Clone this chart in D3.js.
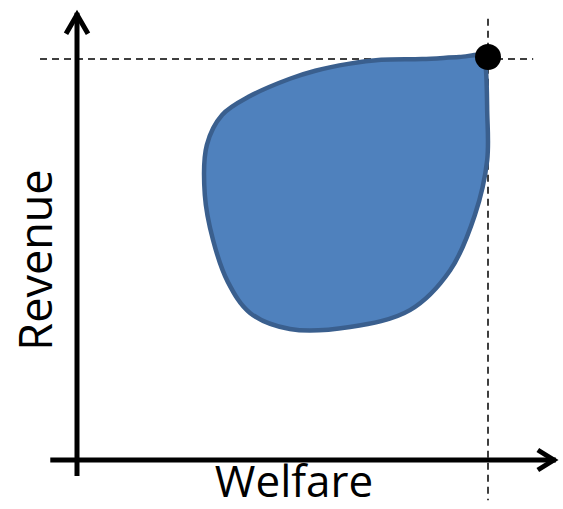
<!DOCTYPE html>
<html>
<head>
<meta charset="utf-8">
<script src="https://cdn.jsdelivr.net/npm/d3@7"></script>
<style>
  body { margin: 0; background: #fff; }
  text { font-family: "Open Sans", sans-serif; fill: #000; }
</style>
</head>
<body>
<svg width="563" height="509"></svg>
<script>
"use strict";

// feasible region outline (welfare, revenue), optimum scaled to 100/100
var regionWelfare = [99, 93, 84, 74, 66, 58, 51.8, 42.1, 35.3, 31.6, 31.1, 33.1, 36.7, 42.1, 51.8, 66.4, 81, 90.8, 96.8, 99.8, 99.8, 99.5];
var regionRevenue = [100.2, 100, 99.5, 99.3, 98.3, 96.6, 94.6, 90.3, 85.6, 78.2, 65.8, 54.6, 44.2, 36.5, 32.5, 33, 37.2, 47.1, 60.8, 74.4, 86.8, 96.8];
var optimum = [100, 100];
var xLabel = "Welfare";
var yLabel = "Revenue";

var svg = d3.select("svg");

var x = d3.scaleLinear().domain([0, 100]).range([77, 488]),
    y = d3.scaleLinear().domain([0, 100]).range([460, 57]);

var pts = regionWelfare.map(function(w, i) { return [w, regionRevenue[i]]; });

// dashed guides through the optimum
svg.append("line")
  .attr("x1", x(-9)).attr("x2", x(111))
  .attr("y1", y(optimum[1]) + 2).attr("y2", y(optimum[1]) + 2)
  .attr("stroke", "#000").attr("stroke-width", 1.5)
  .attr("stroke-dasharray", "7,5");
svg.append("line")
  .attr("x1", x(optimum[0])).attr("x2", x(optimum[0]))
  .attr("y1", y(109.5)).attr("y2", y(-10))
  .attr("stroke", "#000").attr("stroke-width", 1.5)
  .attr("stroke-dasharray", "7,5");

// axes with open arrowheads
var axisG = svg.append("g")
  .attr("stroke", "#000").attr("stroke-width", 5).attr("fill", "none");

axisG.append("line")
  .attr("x1", x(0)).attr("x2", x(0))
  .attr("y1", y(-4)).attr("y2", y(111));
axisG.append("path")
  .attr("d", "M" + (x(0) - 11) + "," + (y(111) + 21) + "L" + x(0) + "," + (y(111) + 2) + "L" + (x(0) + 11) + "," + (y(111) + 21));

axisG.append("line")
  .attr("x1", x(-6.5)).attr("x2", x(116.5))
  .attr("y1", y(0)).attr("y2", y(0));
axisG.append("path")
  .attr("d", "M" + (x(116.5) - 18) + "," + (y(0) - 10) + "L" + (x(116.5) - 2) + "," + y(0) + "L" + (x(116.5) - 18) + "," + (y(0) + 10));

// region
var line = d3.line()
  .curve(d3.curveCatmullRomClosed.alpha(0.5))
  .x(function(d) { return x(d[0]); })
  .y(function(d) { return y(d[1]); });

svg.append("path")
  .attr("d", line(pts))
  .attr("fill", "#4f81bd")
  .attr("stroke", "#3a5f8e")
  .attr("stroke-width", 4.5)
  .attr("stroke-linejoin", "round");

// optimum point
svg.append("circle")
  .attr("cx", x(optimum[0]))
  .attr("cy", y(optimum[1]))
  .attr("r", 13)
  .attr("fill", "#000");

// labels
svg.append("text")
  .attr("x", 294)
  .attr("y", 497)
  .attr("text-anchor", "middle")
  .style("font-size", "44px")
  .text(xLabel);

svg.append("text")
  .attr("transform", "translate(52,260) rotate(-90)")
  .attr("text-anchor", "middle")
  .style("font-size", "45px")
  .text(yLabel);
</script>
</body>
</html>
